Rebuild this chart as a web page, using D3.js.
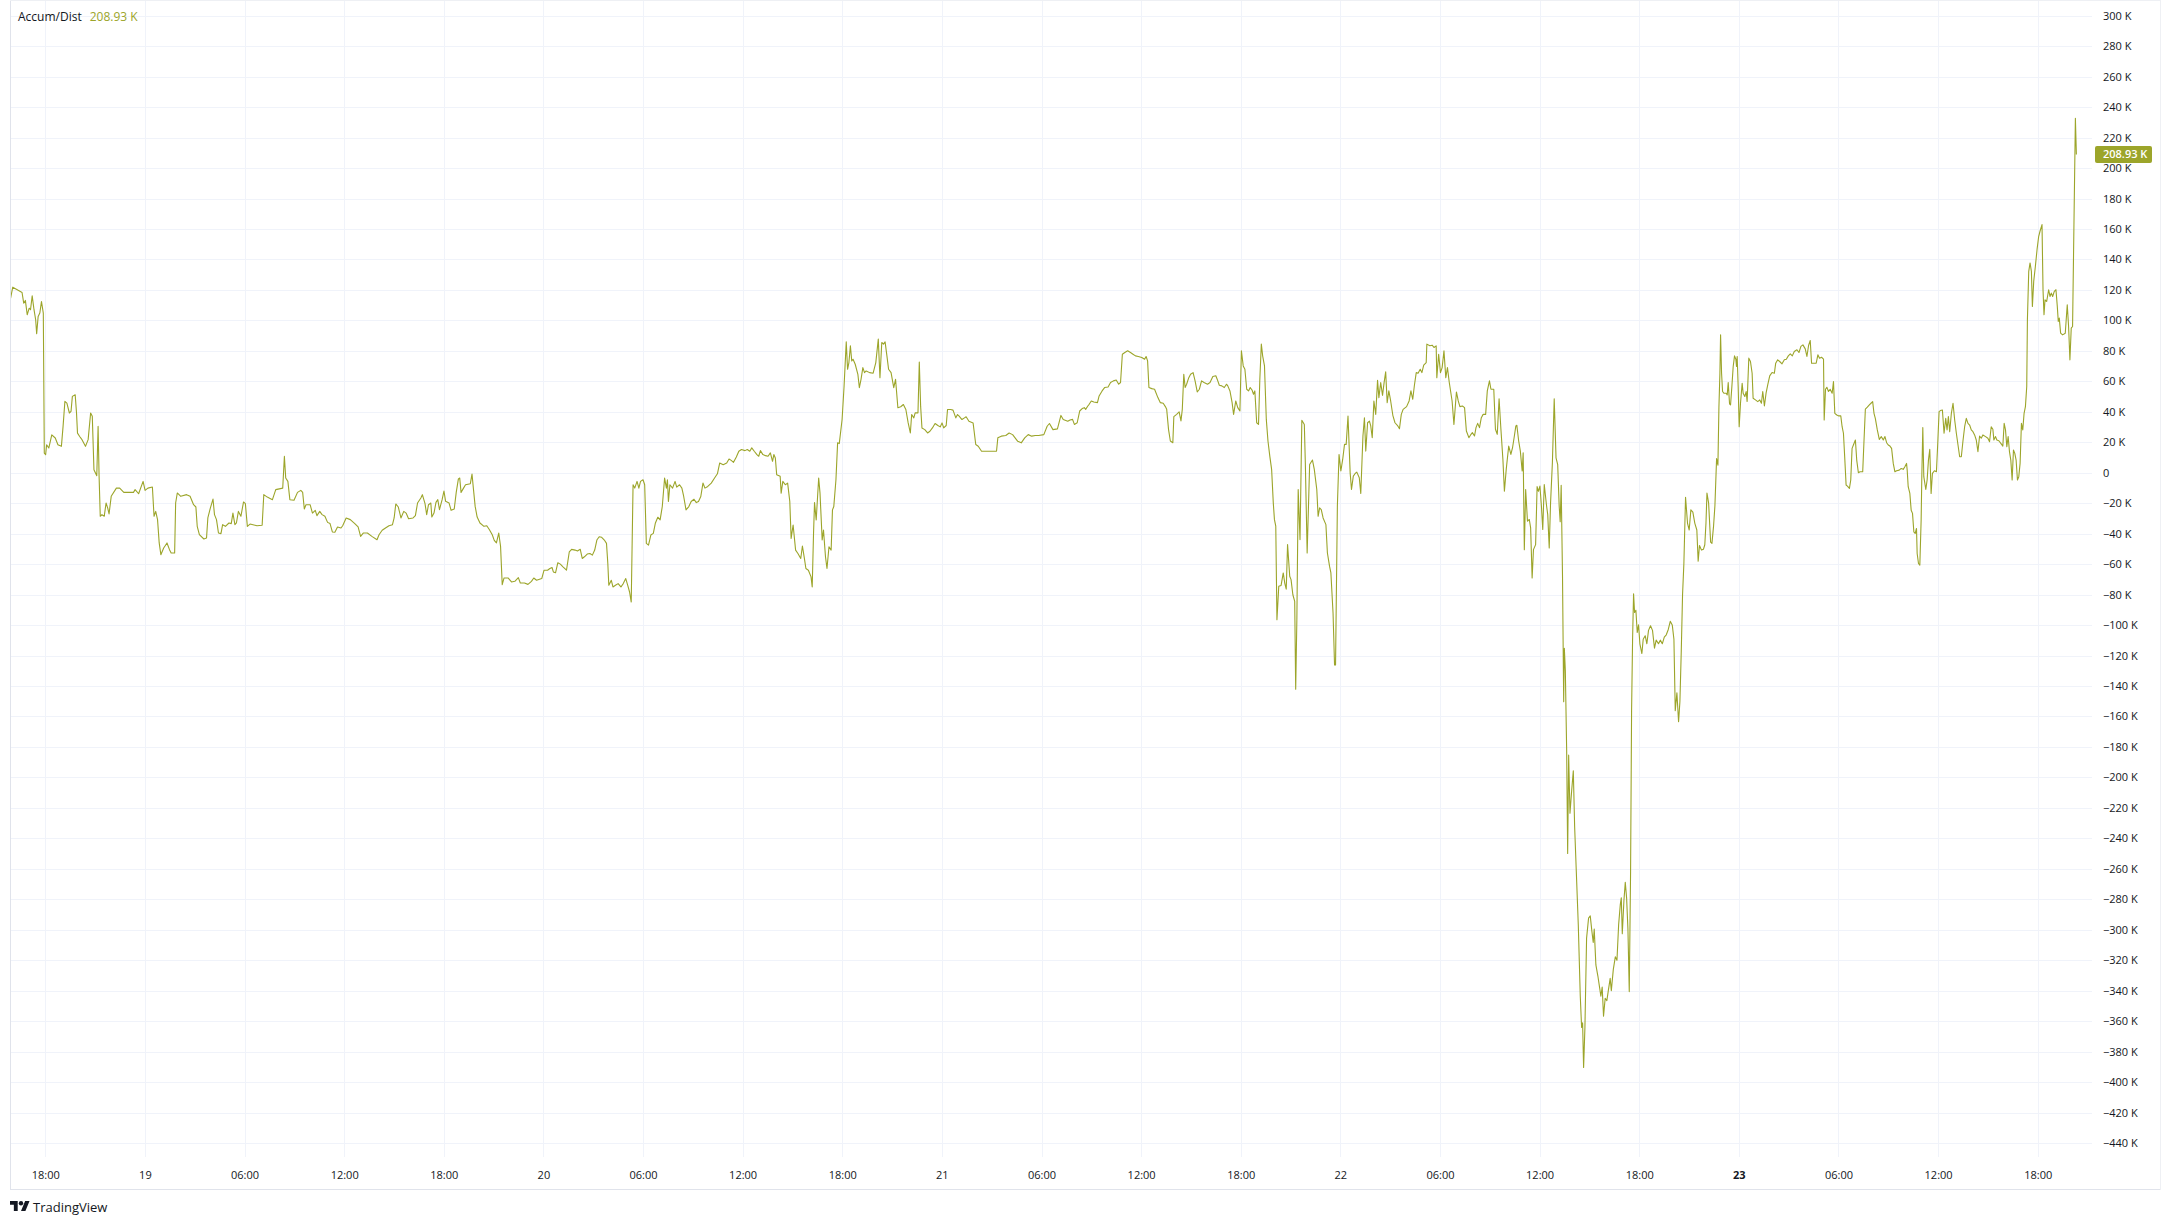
<!DOCTYPE html>
<html><head><meta charset="utf-8">
<script src="https://cdn.jsdelivr.net/npm/d3@7"></script>
<style>
html,body{margin:0;padding:0;background:#ffffff;}
svg{display:block;font-family:"Open Sans",sans-serif;}
</style></head><body>
<svg id="chart" width="2174" height="1225"></svg>
<script>
// hours since day 18, 00:00
const hours = [
15.91,16.04,16.39,16.60,16.70,16.80,16.91,17.03,17.11,17.21,17.32,17.42,17.48,17.57,17.67,17.77,17.88,17.94,18.02,18.08,
18.21,18.39,18.60,18.76,18.97,19.07,19.18,19.30,19.45,19.55,19.63,19.80,19.88,19.94,20.07,20.21,20.42,20.58,20.73,20.83,
20.93,21.10,21.18,21.24,21.31,21.41,21.55,21.66,21.76,21.84,21.97,22.28,22.48,22.73,23.31,23.41,23.62,23.89,24.01,24.18,
24.45,24.55,24.65,24.76,24.86,24.96,25.13,25.33,25.48,25.58,25.79,25.85,25.95,26.16,26.51,26.72,26.93,27.07,27.15,27.28,
27.55,27.71,27.79,27.94,28.10,28.19,28.31,28.43,28.58,28.68,28.85,29.06,29.20,29.30,29.42,29.51,29.63,29.78,29.94,30.05,
30.17,30.33,30.75,31.06,31.16,31.37,31.68,31.88,32.30,32.40,32.48,32.61,32.73,32.98,33.19,33.39,33.50,33.60,33.70,33.95,
34.09,34.26,34.36,34.53,34.67,34.84,35.00,35.15,35.29,35.44,35.60,35.81,35.91,36.12,36.37,36.64,36.84,36.99,37.15,37.40,
37.67,37.98,38.10,38.29,38.49,38.70,38.91,39.01,39.11,39.26,39.42,39.59,39.73,39.88,40.15,40.29,40.42,40.62,40.71,40.87,
40.97,41.08,41.22,41.28,41.41,41.53,41.64,41.74,41.90,42.01,42.11,42.32,42.44,42.63,42.75,42.88,42.96,43.04,43.19,43.31,
43.60,43.70,43.79,43.89,44.01,44.18,44.42,44.59,44.75,44.92,45.04,45.17,45.31,45.42,45.52,45.63,45.87,46.08,46.28,46.49,
46.61,46.86,47.07,47.28,47.42,47.59,
47.90,48.04,48.25,48.39,48.52,48.60,48.73,48.87,49.02,49.18,49.39,49.56,49.70,49.91,50.05,50.22,50.34,50.47,50.64,50.80,
50.95,51.09,51.22,51.36,51.51,51.67,51.80,51.88,51.94,52.09,52.19,52.34,52.50,52.67,52.81,52.96,53.08,53.19,53.29,53.40,
53.50,53.64,53.75,53.85,54.00,54.10,54.20,54.33,54.47,54.62,54.74,54.89,55.03,55.16,55.30,55.41,55.47,55.53,55.62,55.78,
55.93,56.03,56.20,56.34,56.45,56.59,56.76,56.90,57.07,57.21,57.34,57.48,57.61,57.73,57.90,58.11,58.31,58.48,58.62,58.83,
59.04,59.18,59.31,59.45,59.62,59.77,59.93,60.14,60.28,60.43,60.55,60.70,60.86,60.97,61.07,61.22,61.38,61.53,61.67,61.80,
61.88,61.97,62.05,62.26,62.32,62.42,62.57,62.71,62.84,62.92,63.04,63.19,63.33,63.50,63.60,63.71,63.81,63.96,64.12,64.19,
64.27,64.33,64.43,64.58,64.66,64.79,64.87,64.99,65.08,65.20,65.33,65.41,65.49,65.62,65.72,65.82,65.99,66.11,66.24,66.32,
66.40,66.49,66.57,66.65,66.78,66.94,67.03,67.13,67.24,67.34,67.44,67.65,67.86,68.02,68.17,68.27,68.38,68.48,68.58,68.69,
68.79,68.94,69.10,69.21,69.35,69.52,69.68,69.83,69.97,70.10,70.18,70.31,70.39,70.56,70.64,70.72,70.80,70.97,71.14,71.28,
71.43,71.59,71.76,71.90,72.01,72.11,72.26,72.34,72.53,72.67,72.84,72.94,73.04,73.21,73.36,73.46,73.63,73.88,74.04,74.19,
74.39,75.29,75.37,75.58,75.85,76.05,76.26,76.41,76.57,76.78,76.99,77.20,77.41,77.62,77.83,78.14,78.34,78.48,78.69,78.96,
79.17,79.31,79.58,
79.72,79.87,79.98,80.15,80.30,80.45,80.58,80.66,80.79,80.87,81.00,81.15,81.37,81.47,81.65,81.80,82.01,82.16,82.33,82.50,
82.65,82.76,82.87,83.02,83.19,83.36,83.51,83.66,83.83,84.04,84.21,84.30,84.39,84.47,84.64,84.81,85.01,85.16,85.33,85.46,
85.54,85.65,85.76,85.91,85.97,86.14,86.29,86.40,86.48,86.57,86.65,86.74,86.87,86.98,87.13,87.25,87.38,87.51,87.64,87.79,
88.00,88.15,88.32,88.50,88.58,88.71,88.86,89.01,89.14,89.22,89.35,89.48,89.57,89.70,89.82,89.95,90.04,90.15,90.25,90.36,
90.47,90.57,90.68,90.77,90.85,90.96,91.07,91.15,91.24,91.32,91.43,91.54,91.64,91.75,91.86,91.96,92.03,92.11,92.18,92.29,
92.43,92.56,92.65,92.74,92.82,92.95,93.03,93.14,93.25,93.31,93.38,93.46,93.57,93.68,93.83,93.89,94.00,94.15,94.32,94.43,
94.58,94.66,94.75,94.85,94.96,95.13,95.22,95.35,95.43,95.56,95.65,95.71,95.82,95.92,96.03,96.14,96.25,96.35,96.46,96.59,
96.67,96.78,96.89,96.99,97.14,97.23,97.36,97.45,97.53,97.64,97.75,97.83,97.92,98.02,98.13,98.24,98.32,98.43,98.54,98.64,
98.73,98.82,98.92,99.03,99.16,99.29,99.46,99.56,99.67,99.78,99.99,100.14,100.25,100.36,100.46,100.57,100.68,100.81,100.91,101.02,
101.17,101.21,101.39,101.53,101.64,101.77,101.81,101.92,102.03,102.13,102.24,102.35,102.45,102.56,102.73,102.84,102.99,103.10,103.20,103.35,
103.48,103.59,103.74,103.87,103.95,104.08,104.17,104.27,104.38,104.49,104.60,104.75,104.85,104.98,105.07,105.24,105.34,105.45,105.56,105.67,
105.79,105.88,105.99,106.14,106.27,106.37,106.48,106.57,106.63,106.74,106.84,106.95,107.01,107.08,107.16,107.27,107.38,107.46,107.55,107.63,
107.76,107.85,107.93,108.02,108.11,108.19,108.28,108.41,108.49,108.58,108.66,108.77,108.88,108.99,109.09,109.18,109.24,
109.30,109.38,109.42,109.45,109.49,109.55,109.63,109.69,109.75,109.83,109.93,110.03,110.11,110.21,110.33,110.45,110.53,110.59,110.65,110.73,
110.83,110.95,111.05,111.15,111.23,111.29,111.39,111.51,111.63,111.69,111.77,111.85,111.95,112.05,112.13,112.25,112.32,112.44,112.56,112.66,
112.76,112.86,112.92,112.98,113.08,113.16,113.24,113.32,113.40,113.48,113.54,113.60,113.66,113.72,113.80,113.88,113.96,114.04,114.16,114.24,
114.36,114.46,114.56,114.68,114.80,114.92,115.02,115.16,115.27,115.39,115.51,115.63,115.75,115.87,115.99,116.09,116.17,116.27,116.37,116.45,
116.53,116.61,116.69,116.79,116.91,117.01,117.11,117.23,117.35,117.47,117.55,117.63,117.75,117.87,117.95,118.02,118.08,118.18,118.30,118.38,
118.48,118.56,118.66,118.74,118.80,
118.86,118.90,118.96,119.02,119.10,119.24,119.30,119.36,119.44,119.50,119.58,119.66,119.74,119.82,119.86,119.90,119.96,120.02,120.10,120.20,
120.26,120.36,120.44,120.50,120.60,120.70,120.80,120.86,121.00,121.14,121.26,121.36,121.44,121.54,121.64,121.74,121.86,122.00,122.14,122.22,
122.34,122.46,122.60,122.74,122.86,122.98,123.10,123.22,123.34,123.50,123.62,123.74,123.86,124.00,124.10,124.20,124.30,124.38,124.50,124.66,
124.76,124.86,124.98,125.10,125.14,125.22,125.30,125.40,125.50,125.62,125.70,125.78,125.90,126.02,126.14,126.22,126.30,126.38,126.46,126.54,
126.66,126.74,126.82,126.90,127.02,127.10,127.20,127.30,127.46,127.54,127.62,127.74,127.86,127.96,128.06,128.14,128.22,128.34,128.46,128.58,
128.70,128.80,128.90,129.00,129.10,129.20,129.30,129.40,129.50,129.66,129.78,129.90,130.00,130.10,130.14,130.20,130.30,130.38,130.46,130.54,
130.62,130.70,130.74,130.82,130.90,130.98,131.02,131.08,131.14,131.26,131.34,131.42,131.50,131.58,131.66,131.78,131.90,131.98,132.06,132.14,
132.26,132.36,132.46,132.54,132.62,132.70,132.80,132.90,133.00,133.10,133.20,133.30,133.40,133.50,133.60,133.70,133.80,133.90,134.00,134.10,
134.20,134.30,134.40,134.50,134.60,134.70,134.86,135.00,135.10,135.20,135.30,135.36,135.46,135.54,135.66,135.78,135.90,135.98,136.06,136.14,
136.22,136.30,136.38,136.46,136.54,136.62,136.70,136.78,136.86,136.94,137.02,137.10,137.18,137.26,137.34,137.38,137.46,137.54,137.62,137.68,
137.76,137.86,137.96,138.06,138.14,138.26,138.32,138.38,138.44,138.54,138.66,138.74,138.82,138.90,139.00,139.10,139.18,139.24,139.30,139.38,
139.50,139.66,139.78,139.86,139.94,140.02,140.10,140.27,140.33
];
// Accumulation/Distribution, thousands
const accDist = [
114.6,121.8,119.6,118.3,111.3,113.1,103.7,108.0,107.0,116.1,107.0,100.4,91.2,102.6,104.8,112.4,104.8,12.9,11.8,18.4,
16.2,24.9,22.8,18.4,17.3,30.4,46.8,45.7,39.2,40.3,50.1,51.2,39.2,26.0,23.8,21.7,17.3,21.7,39.2,37.0,
2.0,-2.0,30.4,-2.4,-28.6,-27.5,-28.6,-19.9,-23.2,-27.1,-15.5,-10.1,-10.1,-12.9,-12.9,-11.1,-13.8,-5.7,-11.6,-10.1,
-9.4,-28.6,-25.4,-30.8,-46.1,-53.8,-49.4,-46.1,-50.5,-52.7,-52.7,-19.9,-13.3,-15.5,-14.4,-15.5,-21.0,-22.5,-35.2,-40.7,
-43.5,-42.9,-29.7,-23.2,-17.3,-27.5,-30.8,-39.6,-40.0,-34.1,-35.2,-33.0,-33.4,-26.5,-34.1,-33.0,-25.4,-28.6,-19.2,-20.3,
-35.2,-33.7,-34.8,-34.5,-14.4,-16.0,-17.7,-11.1,-10.1,10.7,-3.5,-5.7,-17.7,-18.1,-12.9,-11.6,-12.9,-23.8,-21.0,-21.0,
-26.5,-24.7,-28.2,-25.4,-27.5,-28.6,-32.6,-33.4,-38.9,-39.1,-35.6,-36.3,-34.8,-29.7,-30.8,-33.4,-35.6,-41.8,-39.6,-39.6,
-41.8,-44.0,-40.7,-37.8,-36.3,-34.8,-34.1,-29.7,-20.5,-22.5,-29.7,-25.4,-26.5,-30.2,-29.7,-28.2,-19.9,-16.6,-14.4,-20.3,
-27.5,-21.0,-19.9,-29.1,-26.5,-19.5,-17.7,-24.3,-17.7,-12.0,-18.8,-19.9,-24.7,-23.8,-12.9,-4.1,-3.5,-12.9,-10.1,-7.9,
-7.2,-0.9,-11.1,-22.1,-29.1,-33.0,-35.2,-34.8,-37.4,-40.7,-44.4,-46.1,-39.6,-48.3,-73.5,-69.1,-69.1,-71.7,-71.3,-68.9,
-72.4,-72.4,-73.3,-71.3,-69.1,-70.6,
-69.5,-64.0,-64.0,-62.9,-62.2,-65.1,-65.7,-59.1,-60.0,-61.8,-64.0,-51.9,-50.3,-50.8,-51.4,-50.3,-56.3,-55.2,-53.4,-53.0,
-54.1,-50.8,-44.2,-42.0,-42.4,-44.2,-46.4,-59.6,-73.9,-70.6,-75.0,-73.9,-72.8,-75.0,-72.8,-69.5,-73.9,-78.3,-84.9,-7.9,
-10.1,-5.7,-10.1,-5.7,-4.6,-7.9,-46.4,-47.5,-40.9,-39.8,-33.2,-29.2,-31.0,-22.2,-3.5,-10.1,-4.6,-18.9,-7.9,-10.1,
-5.7,-9.5,-7.9,-10.1,-15.6,-24.4,-22.2,-18.9,-17.4,-19.6,-18.9,-15.6,-6.8,-10.1,-9.0,-6.8,-3.5,-0.7,6.4,5.3,
6.4,9.0,8.1,6.8,10.3,14.1,15.2,14.5,15.2,14.1,16.3,14.1,11.9,10.8,14.5,11.9,11.2,10.8,13.0,7.5,
11.9,9.7,-1.3,-2.4,-13.4,-5.7,-7.9,-6.8,-18.9,-43.1,-34.3,-50.8,-53.0,-56.3,-48.1,-55.6,-62.9,-64.0,-68.4,-75.0,
-39.8,-19.6,-31.0,-3.5,-13.4,-44.2,-37.6,-55.2,-62.9,-48.6,-50.8,-24.4,-22.2,-4.6,19.6,19.1,34.9,56.9,85.9,67.9,
72.3,83.3,73.4,74.5,71.2,64.6,55.8,61.3,69.0,65.7,66.8,65.7,65.3,72.3,87.7,62.4,85.5,84.4,85.9,76.7,
67.9,65.7,55.8,61.3,42.6,43.3,44.8,41.5,32.7,26.1,38.2,36.0,39.3,39.3,72.7,43.7,29.4,28.3,26.1,27.2,
29.4,32.3,31.0,30.1,32.7,29.4,31.0,41.5,41.5,41.1,36.0,38.2,37.1,34.9,36.0,36.7,33.8,32.7,18.5,17.4,
14.1,14.1,22.9,24.0,24.4,26.1,25.0,22.9,20.6,19.6,22.9,25.0,24.0,24.4,24.4,25.0,30.5,32.3,28.3,28.8,
37.6,34.9,33.8,
34.6,35.0,31.7,32.8,40.5,42.1,42.7,41.6,43.8,44.9,47.1,46.4,46.0,50.4,53.7,55.9,56.3,59.2,60.3,60.9,
58.1,59.2,77.8,78.9,80.0,78.9,77.8,76.7,76.3,75.6,74.5,76.3,73.4,55.9,55.2,54.8,49.3,46.0,45.6,43.4,
41.6,28.5,20.8,19.7,36.8,38.3,39.9,34.0,41.6,64.6,55.9,58.1,62.4,64.6,65.7,60.3,53.0,54.8,60.3,59.2,
58.1,59.2,63.1,63.6,61.4,57.4,57.0,55.9,58.1,57.0,53.7,46.0,38.3,47.1,42.7,40.5,80.0,70.1,67.9,54.8,
53.7,55.9,54.3,51.5,53.7,32.8,31.7,61.4,84.4,76.7,70.1,35.0,20.8,10.9,2.2,-19.8,-30.8,-35.1,-96.5,-74.6,
-74.0,-65.8,-72.4,-76.4,-47.2,-68.0,-70.2,-80.1,-84.5,-142.1,-96.5,-11.0,-43.9,34.4,31.7,6.5,-52.7,5.4,8.3,2.2,
-11.0,-28.6,-23.1,-24.2,-29.7,-34.1,-52.7,-61.5,-65.8,-92.2,-126.2,-126.2,-22.0,12.0,1.1,8.7,18.6,18.6,37.2,-0.1,
-11.0,-2.2,-0.5,0.4,-3.3,-13.6,24.1,36.1,14.2,32.8,33.9,30.7,23.0,47.1,38.3,60.7,49.3,59.2,50.8,59.6,
66.2,46.0,53.7,47.1,37.7,32.8,30.7,28.9,38.3,41.6,43.4,47.1,53.7,48.2,57.4,65.7,65.3,67.9,65.7,70.6,
72.3,84.4,83.3,83.7,82.2,83.3,62.4,77.8,65.7,69.0,80.0,62.4,69.0,59.2,47.1,31.7,53.0,47.1,43.4,43.8,
42.7,27.4,23.0,25.2,26.3,24.1,29.6,32.4,29.6,36.1,38.3,38.3,53.7,60.3,54.8,54.8,28.5,25.2,48.6,28.5,
8.7,-12.1,2.2,17.5,12.0,16.4,24.1,30.7,31.1,20.8,14.2,1.1,13.1,-50.5,-11.0,-31.8,-30.7,-36.2,-69.1,-50.5,
-47.2,-9.1,-12.2,-8.8,-22.0,-37.3,-7.7,-20.9,-27.5,-49.4,-19.8,6.5,48.6,9.7,5.3,-22.0,-32.1,
-8.3,-68.3,-115.2,-150.3,-115.2,-129.8,-182.5,-249.9,-185.4,-223.5,-208.9,-195.7,-232.3,-261.6,-296.7,-343.6,-364.1,-361.1,-390.4,-364.1,
-305.5,-292.3,-290.9,-301.1,-308.4,-299.6,-323.1,-330.4,-339.2,-343.6,-337.7,-356.7,-345.0,-346.5,-340.6,-331.9,-340.0,-326.0,-317.8,-320.1,
-296.7,-283.5,-279.1,-302.6,-280.6,-268.9,-279.1,-299.6,-340.6,-261.6,-156.2,-109.3,-79.5,-91.8,-90.3,-104.9,-99.9,-112.3,-118.7,-109.3,
-107.0,-112.3,-103.5,-100.5,-103.5,-115.2,-109.9,-112.3,-109.9,-112.3,-107.9,-106.4,-102.9,-97.6,-99.9,-109.3,-156.2,-144.5,-163.5,-150.3,
-118.1,-80.0,-59.5,-16.2,-33.2,-37.6,-24.4,-25.9,-33.2,-37.6,-58.1,-47.8,-50.8,-50.2,-47.3,-33.2,-13.3,-20.0,-45.5,-46.4,
-34.7,-21.5,9.3,4.9,42.9,
65.3,90.5,65.3,53.3,52.2,52.2,51.1,59.2,45.2,44.5,56.5,69.7,76.7,74.5,69.7,76.3,56.5,30.2,45.6,58.7,
52.2,50.0,53.3,46.7,75.2,73.0,65.3,48.9,47.8,46.7,47.8,45.6,53.3,43.8,52.2,57.6,63.6,65.8,65.3,71.9,
74.1,73.0,71.5,74.1,74.5,76.7,78.0,76.7,79.6,80.7,78.9,82.9,83.9,81.3,76.3,83.5,86.8,71.9,71.9,71.9,
77.4,75.2,75.8,74.5,34.6,54.8,56.1,53.3,54.8,52.2,59.8,39.0,37.9,37.3,37.3,30.2,25.9,9.4,-8.1,-8.8,
-10.3,-4.8,16.0,18.2,21.5,8.3,0.0,0.6,0.6,21.5,41.7,43.0,44.5,45.6,46.7,39.0,35.7,28.1,21.9,23.7,
21.5,23.7,19.7,18.2,17.5,16.0,6.1,0.6,1.3,1.7,2.8,2.2,3.9,6.1,1.7,-9.2,-13.6,-24.6,-26.7,-38.8,
-39.9,-36.6,-53.0,-59.6,-60.7,-31.1,-2.6,29.6,-2.6,-11.0,-4.8,8.3,15.3,-13.6,-0.4,1.3,0.6,19.3,40.1,40.8,
41.2,25.9,35.7,28.1,36.8,27.0,39.0,45.6,34.6,25.9,18.2,10.5,10.5,21.0,30.2,35.7,32.4,31.3,28.1,26.9,
24.8,21.5,13.8,24.1,22.6,24.8,23.7,22.6,20.4,30.2,28.5,21.5,23.7,21.5,21.0,19.3,17.5,32.4,28.1,17.1,
23.7,13.8,8.3,-4.8,14.9,12.7,8.3,-4.8,-2.6,6.1,32.4,28.1,39.0,43.4,56.6,100.4,132.2,137.7,132.2,109.2,
125.6,135.5,146.4,155.2,158.5,162.9,120.1,103.7,113.5,112.4,120.1,115.7,117.9,115.7,119.0,120.1,109.2,99.3,101.5,91.6,
90.5,91.6,110.3,96.0,74.1,94.9,96.0,232.7,208.93
];
const indicatorName = "Accum/Dist";
const lastValue = 208.93;
const yTickValues = d3.range(-440, 301, 20);
const xTickHours = d3.range(18, 139, 6);
const dayNames = {24: "19", 48: "20", 72: "21", 96: "22", 120: "23"};
const boldDays = [120];

const W = 2174, H = 1225;
const pane = {left: 10, right: 2092, top: 1, bottom: 1157};
const lineColor = "#9ca52a";
const textColor = "#131722";
const gridColor = "#f0f3fa";

const svg = d3.select("#chart");
const x = d3.scaleLinear().domain([18, 138]).range([45.3, 2037.7]);
const y = d3.scaleLinear().domain([-440, 300]).range([1143, 15.7]);

const fmtK = v => v === 0 ? "0" : (v < 0 ? "\u2212" : "") + Math.abs(v) + " K";
const fmtT = h => dayNames[h] !== undefined ? dayNames[h] : String(h % 24).padStart(2, "0") + ":00";

svg.append("rect").attr("width", W).attr("height", H).attr("fill", "#fff");

// grid
const grid = svg.append("g");
grid.selectAll("line.h").data(yTickValues).join("line")
  .attr("x1", pane.left).attr("x2", pane.right)
  .attr("y1", d => Math.round(y(d)) + 0.5).attr("y2", d => Math.round(y(d)) + 0.5)
  .attr("stroke", gridColor).attr("stroke-width", 1);
grid.selectAll("line.v").data(xTickHours).join("line")
  .attr("y1", pane.top).attr("y2", pane.bottom)
  .attr("x1", d => Math.round(x(d)) + 0.5).attr("x2", d => Math.round(x(d)) + 0.5)
  .attr("stroke", gridColor).attr("stroke-width", 1);

// frame
svg.append("line").attr("x1", pane.left + 0.5).attr("x2", pane.left + 0.5).attr("y1", 0).attr("y2", 1190)
  .attr("stroke", "#e0e3eb");
svg.append("line").attr("x1", pane.left).attr("x2", 2160).attr("y1", 1189.5).attr("y2", 1189.5)
  .attr("stroke", "#e0e3eb");
svg.append("line").attr("x1", pane.left).attr("x2", 2160).attr("y1", 0.5).attr("y2", 0.5)
  .attr("stroke", "#eef0f4");
svg.append("line").attr("x1", 2160.5).attr("x2", 2160.5).attr("y1", 0).attr("y2", 1190)
  .attr("stroke", "#eef0f4");

svg.append("clipPath").attr("id", "paneClip").append("rect")
  .attr("x", pane.left + 1).attr("y", pane.top).attr("width", pane.right - pane.left - 1).attr("height", pane.bottom - pane.top);

const data = hours.map((h, i) => ({t: h, v: accDist[i]}));
const line = d3.line().x(d => x(d.t)).y(d => y(d.v));
svg.append("path").datum(data).attr("clip-path", "url(#paneClip)")
  .attr("d", line).attr("fill", "none").attr("stroke", lineColor)
  .attr("stroke-width", 1.1).attr("stroke-linejoin", "round");

// price axis
const yAxis = d3.axisRight(y).tickValues(yTickValues).tickSize(0).tickPadding(11).tickFormat(fmtK);
const gy = svg.append("g").attr("transform", `translate(${pane.right},0)`).call(yAxis);
gy.select(".domain").remove();
gy.selectAll("text").attr("fill", textColor).attr("font-size", 11).attr("font-family", "'Open Sans',sans-serif");

// time axis
const xAxis = d3.axisBottom(x).tickValues(xTickHours).tickSize(0).tickPadding(14).tickFormat(fmtT);
const gx = svg.append("g").attr("transform", `translate(0,${pane.bottom})`).call(xAxis);
gx.select(".domain").remove();
gx.selectAll("text").attr("fill", textColor).attr("font-size", 11).attr("font-family", "'Open Sans',sans-serif")
  .attr("font-weight", d => boldDays.includes(d) ? 700 : 400);

// last value label
const ly = y(lastValue);
svg.append("rect").attr("x", 2095).attr("y", ly - 8.5).attr("width", 57).attr("height", 17).attr("rx", 2)
  .attr("fill", lineColor);
svg.append("text").attr("x", 2103).attr("y", ly).attr("dy", "0.35em")
  .attr("fill", "#fff").attr("font-size", 11).attr("font-weight", 600).text(fmtK(lastValue));

// legend
const legend = svg.append("text").attr("x", 18).attr("y", 16.5).attr("dy", "0.35em").attr("font-size", 12);
legend.append("tspan").attr("fill", textColor).text(indicatorName);
legend.append("tspan").attr("dx", 8).attr("fill", lineColor).text(fmtK(lastValue));

// TradingView logo
const logo = svg.append("g").attr("transform", "translate(10,1201)");
logo.append("path").attr("transform", "scale(0.55) translate(0,-4)")
  .attr("d", "M14 22H7V11H0V4h14v18zM28 22h-8l7.5-18h8L28 22z").attr("fill", textColor);
logo.append("circle").attr("transform", "scale(0.55) translate(0,-4)").attr("cx", 20).attr("cy", 8).attr("r", 4).attr("fill", textColor);
svg.append("text").attr("x", 33).attr("y", 1207).attr("dy", "0.35em").attr("font-size", 13)
  .attr("fill", textColor).text("TradingView");
</script>
</body></html>
